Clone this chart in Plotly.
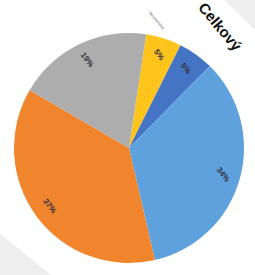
import math
import plotly.graph_objects as go

labels = ["Nevím", "Spíše ne", "Spíše ano", "Ano", "Ne"]
values = [5, 5, 34, 37, 19]
pct_text = ["5%", "5%", "34%", "37%", "19%"]
colors = ["#FFC41C", "#4574C5", "#5EA1DD", "#F0852E", "#ADADAD"]
title_text = "Celkový"
tiny_text = "Nevím/nelze"

W, H = 255, 275
cx, cy, R = 129, 127, 115  # pie center (from bottom) and radius in px
start_deg = 8.6

fig = go.Figure(go.Pie(
    labels=labels, values=values, sort=False, direction="clockwise",
    rotation=start_deg, marker=dict(colors=colors, line=dict(width=0)),
    textinfo="none", hoverinfo="skip", showlegend=False,
    domain=dict(x=[(cx - R) / W, (cx + R) / W], y=[(cy - R) / H, (cy + R) / H]),
))

total = sum(values)
acc = 0
ann = []
for v, t in zip(values, pct_text):
    mid = start_deg + (acc + v / 2) / total * 360
    acc += v
    r = 0.85 * R
    x = (cx + r * math.sin(math.radians(mid))) / W
    y = (cy + r * math.cos(math.radians(mid))) / H
    ann.append(dict(x=x, y=y, xref="paper", yref="paper", text="<b>" + t + "</b>", showarrow=False,
                    xanchor="center", yanchor="middle",
                    textangle=52, font=dict(size=8, color="#333340", family="Arial")))

ann.append(dict(x=220 / W, y=1 - 27 / H, xref="paper", yref="paper", text="<b>" + title_text + "</b>",
                showarrow=False, xanchor="center", yanchor="middle",
                textangle=50, font=dict(size=15, color="#111", family="Arial")))
ann.append(dict(x=157 / W, y=1 - 20 / H, xref="paper", yref="paper", text=tiny_text,
                showarrow=False, xanchor="center", yanchor="middle",
                textangle=50, font=dict(size=4, color="#666", family="Arial")))

shapes = [
    dict(type="path", xref="paper", yref="paper", layer="below",
         path="M 0 0 L 0 0.15 L 0.2 0 Z", fillcolor="#EEEEEE", line=dict(width=0)),
    dict(type="path", xref="paper", yref="paper", layer="below",
         path="M 0.88 1 L 1 1 L 1 0.89 Z", fillcolor="#EEEEEE", line=dict(width=0)),
]

fig.update_layout(width=W, height=H, margin=dict(l=0, r=0, t=0, b=0),
                  paper_bgcolor="white", plot_bgcolor="white",
                  annotations=ann, shapes=shapes)
fig.write_html("out.html", config={"displayModeBar": False},
               post_script="document.body.style.margin='0px';")
